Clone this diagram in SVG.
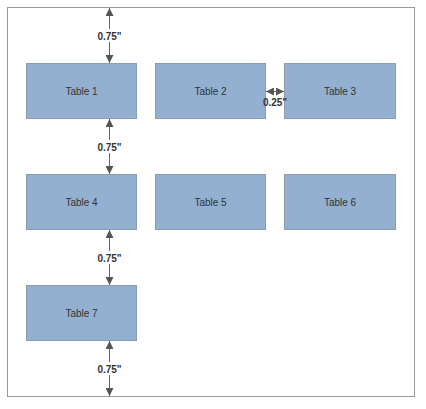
<svg xmlns="http://www.w3.org/2000/svg" width="426" height="409" viewBox="0 0 426 409">
<defs>
<style>
.tbl rect{fill:#93b0d1;stroke:#8c9bad;stroke-width:1}
.tbl text{font-family:"Liberation Sans",Arial,sans-serif;font-size:10px;fill:#333;text-anchor:middle}
.dim line{stroke:#666;stroke-width:1;marker-start:url(#ah);marker-end:url(#ah)}
.lbl{font-family:"Liberation Sans",Arial,sans-serif;font-size:10px;font-weight:bold;fill:#333;text-anchor:middle}
</style>
<marker id="ah" viewBox="0 0 10 10" refX="10" refY="5" markerWidth="8" markerHeight="8" markerUnits="userSpaceOnUse" orient="auto-start-reverse">
<path d="M0,0 L10,5 L0,10 z" fill="#555"/>
</marker>
</defs>
<rect x="0" y="0" width="426" height="409" fill="#fff"/>
<rect id="page" x="7.5" y="7.5" width="407" height="389" fill="#fff" stroke="#999" stroke-width="1"/>
<g id="connectors" class="dim">
<line x1="109.5" y1="8" x2="109.5" y2="63"/>
<line x1="109.5" y1="119" x2="109.5" y2="174"/>
<line x1="109.5" y1="230" x2="109.5" y2="285"/>
<line x1="109.5" y1="341" x2="109.5" y2="396"/>
<line x1="266" y1="91.5" x2="284" y2="91.5"/>
</g>
<g id="table1" class="tbl"><rect x="26.5" y="63.5" width="110" height="55"/><text x="81.5" y="95">Table 1</text></g>
<g id="table2" class="tbl"><rect x="155.5" y="63.5" width="110" height="55"/><text x="210.5" y="95">Table 2</text></g>
<g id="table3" class="tbl"><rect x="284.5" y="63.5" width="111" height="55"/><text x="340" y="95">Table 3</text></g>
<g id="table4" class="tbl"><rect x="26.5" y="174.5" width="110" height="55"/><text x="81.5" y="206">Table 4</text></g>
<g id="table5" class="tbl"><rect x="155.5" y="174.5" width="110" height="55"/><text x="210.5" y="206">Table 5</text></g>
<g id="table6" class="tbl"><rect x="284.5" y="174.5" width="111" height="55"/><text x="340" y="206">Table 6</text></g>
<g id="table7" class="tbl"><rect x="26.5" y="285.5" width="110" height="55"/><text x="81.5" y="317">Table 7</text></g>
<g id="labels">
<rect x="94" y="29" width="31" height="13" fill="#fff"/>
<text class="lbl" x="109.5" y="39.5">0.75"</text>
<rect x="94" y="140" width="31" height="13" fill="#fff"/>
<text class="lbl" x="109.5" y="150.5">0.75"</text>
<rect x="94" y="251" width="31" height="13" fill="#fff"/>
<text class="lbl" x="109.5" y="261.5">0.75"</text>
<rect x="94" y="362" width="31" height="13" fill="#fff"/>
<text class="lbl" x="109.5" y="372.5">0.75"</text>
<text class="lbl" x="275" y="106">0.25"</text>
</g>
</svg>
